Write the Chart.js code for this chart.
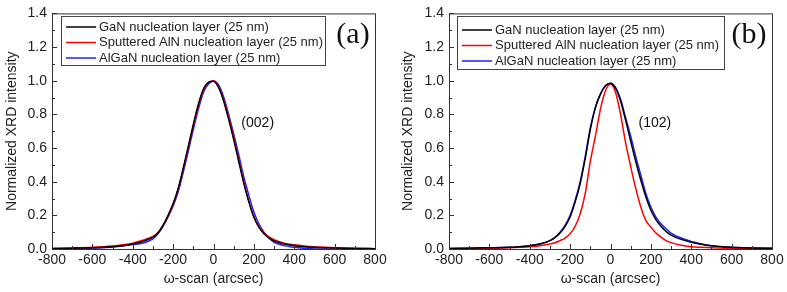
<!DOCTYPE html>
<html>
<head>
<meta charset="utf-8">
<title>XRD rocking curves</title>
<script src="https://cdn.jsdelivr.net/npm/chart.js@4"></script>
<style>
body {margin: 0; background: #fff;}
.panel {position: absolute; top: 0;}
</style>
</head>
<body>
<div class="panel" style="left:0px"><canvas id="chartA" width="396" height="292"></canvas></div>
<div class="panel" style="left:396px"><canvas id="chartB" width="391" height="292"></canvas></div>

<script>
// omega-scan positions (arcsec), shared by every curve
var scanX = [-800, -700, -600, -500, -450, -400, -350, -300, -275, -250, -225, -200, -175, -150, -125, -100, -75, -50, -25, 0,
	25, 50, 75, 100, 125, 150, 175, 200, 225, 250, 275, 300, 350, 400, 450, 500, 600, 700, 800];

var seriesLabels = ['GaN nucleation layer (25 nm)', 'Sputtered AlN nucleation layer (25 nm)', 'AlGaN nucleation layer (25 nm)'];
var seriesColors = ['#000000', '#ff0000', '#2020ff'];

// (002) reflection
var gan002 = [0.003, 0.005, 0.008, 0.014, 0.02, 0.03, 0.045, 0.07, 0.095, 0.14, 0.2, 0.27, 0.36, 0.48, 0.61, 0.74, 0.86, 0.95, 0.99, 0.997,
	0.96, 0.88, 0.77, 0.65, 0.52, 0.39, 0.28, 0.19, 0.13, 0.09, 0.065, 0.048, 0.03, 0.02, 0.014, 0.01, 0.006, 0.003, 0.002];
var aln002 = [0.003, 0.006, 0.01, 0.018, 0.025, 0.035, 0.052, 0.075, 0.098, 0.14, 0.195, 0.265, 0.355, 0.47, 0.6, 0.73, 0.85, 0.94, 0.99, 0.998,
	0.965, 0.89, 0.785, 0.665, 0.53, 0.4, 0.285, 0.19, 0.13, 0.095, 0.072, 0.055, 0.035, 0.025, 0.018, 0.013, 0.008, 0.004, 0.002];
var algan002 = [0.0, 0.002, 0.005, 0.012, 0.018, 0.026, 0.035, 0.06, 0.09, 0.135, 0.19, 0.255, 0.34, 0.455, 0.58, 0.71, 0.83, 0.93, 0.98, 0.998,
	0.975, 0.905, 0.8, 0.685, 0.56, 0.43, 0.32, 0.22, 0.15, 0.1, 0.065, 0.04, 0.02, 0.01, 0.004, 0.0, 0.0, 0.0, 0.0];

// (102) reflection
var gan102 = [0.003, 0.005, 0.007, 0.01, 0.014, 0.02, 0.03, 0.05, 0.068, 0.095, 0.135, 0.19, 0.28, 0.39, 0.54, 0.71, 0.84, 0.92, 0.97, 0.985,
	0.955, 0.88, 0.765, 0.64, 0.52, 0.41, 0.31, 0.23, 0.175, 0.135, 0.105, 0.083, 0.057, 0.04, 0.028, 0.019, 0.01, 0.006, 0.004];
var aln102 = [0.002, 0.003, 0.005, 0.008, 0.01, 0.013, 0.02, 0.03, 0.037, 0.05, 0.065, 0.09, 0.135, 0.21, 0.33, 0.52, 0.67, 0.83, 0.94, 0.98,
	0.93, 0.8, 0.63, 0.49, 0.36, 0.25, 0.17, 0.13, 0.095, 0.07, 0.05, 0.038, 0.022, 0.014, 0.01, 0.007, 0.004, 0.003, 0.002];
var algan102 = [0.003, 0.005, 0.007, 0.01, 0.014, 0.02, 0.03, 0.05, 0.07, 0.1, 0.14, 0.2, 0.29, 0.4, 0.55, 0.72, 0.84, 0.92, 0.97, 0.985,
	0.96, 0.89, 0.78, 0.67, 0.55, 0.44, 0.33, 0.25, 0.19, 0.15, 0.12, 0.095, 0.065, 0.045, 0.03, 0.02, 0.01, 0.006, 0.004];

var xMin = -800, xMax = 800, xStep = 200, xMinor = 100;
var yMin = 0, yMax = 1.4, yStep = 0.2, yMinor = 0.1;

var sansFont = '"Liberation Sans", Arial, sans-serif';

/// paires {x, y} pour une courbe
function points(values) {
	return scanX.map(function (x, i) { return {x: x, y: values[i]}; });
}

/// cadre, graduations vers l'interieur, legende encadree et etiquettes
const framePlugin = {
	id: 'frame',
	afterDraw(chart, args, opts) {
		var ctx = chart.ctx;
		var area = chart.chartArea;
		var sx = chart.scales.x, sy = chart.scales.y;
		ctx.save();
		ctx.strokeStyle = '#333';
		ctx.lineWidth = 1;
		ctx.strokeRect(area.left + 0.5, area.top + 0.5, area.right - area.left, area.bottom - area.top);

		ctx.beginPath();
		for (var v = xMin; v <= xMax; v += xMinor) {
			var px = Math.round(sx.getPixelForValue(v)) + 0.5;
			var len = (v % xStep === 0) ? 5 : 3;
			ctx.moveTo(px, area.bottom);
			ctx.lineTo(px, area.bottom - len);
		}
		for (var k = 0; k <= Math.round((yMax - yMin) / yMinor); k++) {
			var val = yMin + k * yMinor;
			var py = Math.round(sy.getPixelForValue(val)) + 0.5;
			var l2 = (k % 2 === 0) ? 5 : 3;
			ctx.moveTo(area.left, py);
			ctx.lineTo(area.left + l2, py);
		}
		ctx.stroke();

		// legende
		var lg = opts.legend;
		ctx.strokeStyle = '#444';
		ctx.strokeRect(lg.left + 0.5, lg.top + 0.5, lg.width, lg.height);
		ctx.font = '13px ' + sansFont;
		ctx.textBaseline = 'middle';
		ctx.textAlign = 'left';
		chart.data.datasets.forEach(function (ds, i) {
			var ry = lg.top + lg.firstRow + i * lg.rowGap;
			ctx.strokeStyle = ds.borderColor;
			ctx.lineWidth = 1.5;
			ctx.beginPath();
			ctx.moveTo(lg.left + 5, ry);
			ctx.lineTo(lg.left + 35, ry);
			ctx.stroke();
			ctx.fillStyle = '#222';
			ctx.fillText(ds.label, lg.left + 38, ry);
		});

		// lettre du panneau
		ctx.fillStyle = '#111';
		ctx.font = '30px "Liberation Serif", "Times New Roman", serif';
		ctx.textAlign = 'center';
		ctx.fillText(opts.letter, opts.letterX, opts.letterY);

		// reflexion
		ctx.font = '14px ' + sansFont;
		ctx.textAlign = 'left';
		ctx.fillText(opts.peak, sx.getPixelForValue(opts.peakAt[0]), sy.getPixelForValue(opts.peakAt[1]));
		ctx.restore();
	}
};

function makeChart(id, series, yAxisWidth, rightPad, frameOpts) {
	var ctx = document.getElementById(id).getContext('2d');
	return new Chart(ctx, {
		type: 'scatter',
		data: {
			datasets: series.map(function (values, i) {
				return {
					label: seriesLabels[i],
					data: points(values),
					showLine: true,
					borderColor: seriesColors[i],
					backgroundColor: seriesColors[i],
					borderWidth: 1.5,
					pointRadius: 0,
					cubicInterpolationMode: 'monotone'
				};
			})
		},
		options: {
			responsive: false,
			animation: false,
			devicePixelRatio: 1,
			layout: {padding: {top: 12, right: rightPad, left: 0, bottom: 0}},
			plugins: {
				legend: {display: false},
				tooltip: {enabled: false},
				frame: frameOpts
			},
			scales: {
				x: {
					type: 'linear',
					min: xMin, max: xMax,
					afterFit: function (scale) { scale.height = 43; },
					grid: {drawOnChartArea: false, drawTicks: false},
					border: {color: '#333'},
					ticks: {stepSize: xStep, padding: 3, color: '#222', font: {family: sansFont, size: 14}},
					title: {display: true, text: 'ω-scan (arcsec)', color: '#222', padding: {top: 0, bottom: 4},
						font: {family: sansFont, size: 14}}
				},
				y: {
					min: yMin, max: yMax,
					afterFit: function (scale) { scale.width = yAxisWidth; },
					grid: {drawOnChartArea: false, drawTicks: false},
					border: {color: '#333'},
					ticks: {stepSize: yStep, padding: 5, color: '#222', font: {family: sansFont, size: 14},
						callback: function (v) { return v.toFixed(1); }},
					title: {display: true, text: 'Normalized XRD intensity', color: '#222', padding: {top: 4, bottom: 0},
						font: {family: sansFont, size: 14}}
				}
			}
		},
		plugins: [framePlugin]
	});
}

var chartA = makeChart('chartA', [gan002, aln002, algan002], 52, 21, {
	legend: {left: 61, top: 16, width: 264, height: 49, firstRow: 11, rowGap: 15.5},
	letter: '(a)', letterX: 353, letterY: 35,
	peak: '(002)', peakAt: [138, 0.745]
});
var chartB = makeChart('chartB', [gan102, aln102, algan102], 53, 15, {
	legend: {left: 61, top: 16, width: 267, height: 53, firstRow: 14, rowGap: 15.5},
	letter: '(b)', letterX: 353, letterY: 35,
	peak: '(102)', peakAt: [139, 0.745]
});
</script>
</body>
</html>
